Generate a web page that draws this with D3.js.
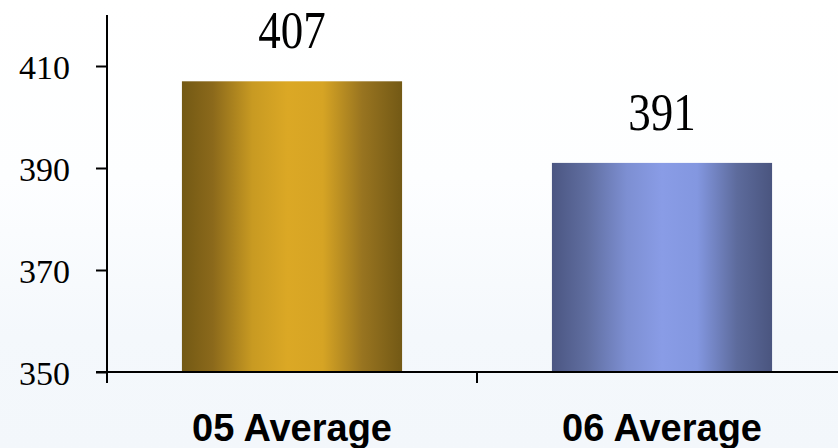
<!DOCTYPE html>
<html>
<head>
<meta charset="utf-8">
<script src="https://cdn.jsdelivr.net/npm/d3@7/dist/d3.min.js"></script>
<style>
  html, body { margin: 0; padding: 0; background: #ffffff; }
  svg { display: block; }
</style>
</head>
<body>
<svg id="chart" width="838" height="448"></svg>
<script>
// Chart data
const categories = ["05 Average", "06 Average"];
const values = [407, 391];
const yTicks = [350, 370, 390, 410];
const yDomain = [350, 420];

const svg = d3.select("#chart");
const W = 838, H = 448;
const margin = { left: 107, top: 15, bottom: 372 };
const tickLen = 11;

const defs = svg.append("defs");

// Pale backdrop: white fading to a cool tint towards the bottom
const bg = defs.append("linearGradient").attr("id", "bg")
  .attr("x1", 0).attr("y1", 0).attr("x2", 0).attr("y2", 1);
bg.append("stop").attr("offset", "0%").attr("stop-color", "#ffffff");
bg.append("stop").attr("offset", "40%").attr("stop-color", "#fdfeff");
bg.append("stop").attr("offset", "75%").attr("stop-color", "#f4f8fc");
bg.append("stop").attr("offset", "100%").attr("stop-color", "#f3f7fb");
svg.append("rect").attr("width", W).attr("height", H).attr("fill", "url(#bg)");

// Cylindrical shading for each bar
const barShades = [
  [["0%", "#735914"], ["14%", "#8b691b"], ["32%", "#c89a22"], ["48%", "#dba825"], ["64%", "#d6a424"], ["82%", "#987420"], ["100%", "#735915"]],
  [["0%", "#4b5682"], ["16%", "#606ea0"], ["34%", "#7d8fd2"], ["50%", "#899ce6"], ["66%", "#8397e0"], ["84%", "#5d6b9c"], ["100%", "#4a557f"]]
];
barShades.forEach((stops, i) => {
  const g = defs.append("linearGradient").attr("id", "bar" + i)
    .attr("x1", 0).attr("y1", 0).attr("x2", 1).attr("y2", 0);
  stops.forEach(s => g.append("stop").attr("offset", s[0]).attr("stop-color", s[1]));
});

const x = d3.scaleBand()
  .domain(categories)
  .range([margin.left, margin.left + 740])
  .paddingInner(0.405)
  .paddingOuter(0.2025);

const y = d3.scaleLinear().domain(yDomain).range([margin.bottom, margin.top]);

// Bars
svg.append("g").selectAll("rect")
  .data(values)
  .join("rect")
  .attr("x", (d, i) => x(categories[i]))
  .attr("y", d => y(d))
  .attr("width", x.bandwidth())
  .attr("height", d => y(yDomain[0]) - y(d))
  .attr("fill", (d, i) => `url(#bar${i})`);

// Value labels above bars
svg.append("g").selectAll("text")
  .data(values)
  .join("text")
  .attr("transform", (d, i) => `translate(${x(categories[i]) + x.bandwidth() / 2},${y(d) - 33}) scale(1,1.18)`)
  .attr("text-anchor", "middle")
  .attr("font-family", "'Liberation Serif', 'Times New Roman', serif")
  .attr("font-size", 45)
  .attr("fill", "#000")
  .text(d => d);

// Y axis
const yAxis = svg.append("g")
  .attr("transform", `translate(${margin.left},0)`)
  .call(d3.axisLeft(y).tickValues(yTicks).tickSize(tickLen).tickSizeOuter(0).tickPadding(26));
yAxis.select(".domain").remove();
yAxis.selectAll(".tick line").attr("stroke", "#000").attr("stroke-width", 2);
yAxis.selectAll(".tick text")
  .attr("font-family", "'Liberation Serif', 'Times New Roman', serif")
  .attr("font-size", 34)
  .attr("fill", "#000")
  .attr("dy", "0.36em");
yAxis.append("line")
  .attr("x1", 0).attr("x2", 0)
  .attr("y1", margin.top).attr("y2", margin.bottom + tickLen)
  .attr("stroke", "#000").attr("stroke-width", 2);

// X axis baseline and boundary ticks
const xg = svg.append("g");
xg.append("line")
  .attr("x1", margin.left - tickLen).attr("x2", W)
  .attr("y1", margin.bottom).attr("y2", margin.bottom)
  .attr("stroke", "#000").attr("stroke-width", 2);
const gap = (x.step() - x.bandwidth()) / 2;
xg.selectAll("line.sep")
  .data(categories.slice(1))
  .join("line")
  .attr("class", "sep")
  .attr("x1", d => x(d) - gap).attr("x2", d => x(d) - gap)
  .attr("y1", margin.bottom).attr("y2", margin.bottom + tickLen)
  .attr("stroke", "#000").attr("stroke-width", 2);

// Category labels
xg.selectAll("text")
  .data(categories)
  .join("text")
  .attr("x", d => x(d) + x.bandwidth() / 2)
  .attr("y", 441)
  .attr("text-anchor", "middle")
  .attr("font-family", "'Liberation Sans', Arial, sans-serif")
  .attr("font-weight", "bold")
  .attr("font-size", 38)
  .attr("fill", "#000")
  .text(d => d);
</script>
</body>
</html>
